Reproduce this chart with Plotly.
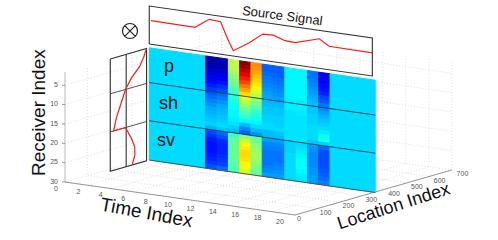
import plotly.graph_objects as go

# ---------- data ----------
time_ticks = [0, 2, 4, 6, 8, 10, 12, 14, 16, 18, 20]
location_ticks = [0, 100, 200, 300, 400, 500, 600, 700]
receiver_ticks = [5, 10, 15, 20, 25, 30]

background = 0.34
col06 = [.03, .04, .05, .07, .09, .11, .13, .15, .18, .21, .23, .25, .27, .29, .30, .31, .32, .33, .30, .20, .17, .15, .14, .14, .14, .15, .16, .18, .21]
col07 = [.04, .05, .06, .08, .10, .12, .14, .17, .20, .23, .25, .27, .29, .30, .31, .32, .33, .34, .32, .23, .20, .17, .16, .16, .16, .17, .18, .19, .23]
col08 = [.56, .56, .55, .53, .51, .49, .47, .45, .43, .41, .40, .39, .38, .37, .37, .36, .35, .33, .31, .44, .46, .47, .47, .47, .47, .47, .46, .45, .45]
col09 = [1.0, .97, .93, .89, .85, .81, .76, .71, .66, .61, .56, .52, .48, .45, .42, .37, .31, .26, .22, .50, .57, .61, .64, .66, .66, .65, .63, .61, .59]
col10 = [.74, .73, .71, .69, .67, .65, .63, .59, .56, .52, .49, .46, .43, .41, .39, .37, .34, .31, .27, .47, .49, .51, .52, .53, .53, .52, .50, .49, .47]
col11 = [.22, .22, .23, .24, .25, .26, .27, .28, .29, .30, .31, .32, .32, .33, .33, .34, .34, .31, .31, .28, .26, .25, .24, .24, .24, .24, .25, .26, .28]
col12 = [.22, .22, .22, .23, .24, .25, .26, .27, .28, .30, .31, .32, .32, .33, .33, .33, .34, .32, .31, .28, .26, .25, .24, .24, .24, .25, .26, .27, .28]
col13 = [.37, .37, .37, .37, .37, .37, .37, .37, .36, .36, .36, .35, .35, .35, .35, .35, .35, .35, .35, .33, .33, .33, .34, .34, .34, .34, .34, .34, .34]
col14 = [.37, .37, .37, .37, .37, .37, .37, .37, .36, .36, .36, .36, .35, .35, .35, .35, .35, .35, .35, .34, .35, .36, .37, .38, .38, .38, .37, .36, .35]
col15 = [.24, .24, .25, .26, .27, .28, .29, .30, .31, .32, .32, .33, .33, .33, .34, .34, .34, .34, .32, .28, .27, .26, .26, .26, .26, .27, .27, .28, .28]
col16 = [.11, .11, .12, .13, .14, .16, .19, .21, .24, .26, .28, .30, .32, .33, .34, .36, .38, .40, .33, .23, .20, .20, .20, .20, .20, .21, .22, .23, .25]
columns = [[background] * 29] * 5 + [col06, col07, col08, col09, col10, col11, col12,
                                     col13, col14, col15, col16] + [[background] * 29] * 4

source_time = [.6, 4.43, 5.67, 6.66, 7.24, 7.76, 9.15, 10.32, 11.24, 12.26, 13.13, 15.24, 16.08, 19.85]
source_value = [.62, .61, .876, .855, .445, .14, .41, .69, .70, .60, .585, .78, .62, .61]

profile_location = [340, 329, 310, 273, 247, 228, 206, 194, 247, 273, 288, 289, 277]
profile_receiver = [1, 2.9, 5.1, 7.5, 10, 13.3, 16.7, 19.8, 19.9, 23, 25.5, 27.6, 30]

plane_location = 353
image_time = (0.45, 20.1)
image_receiver = (1, 30)
panel_location = (179, 341)
panel_centre = 250
source_top = -9.8
section_breaks = [10.0, 19.85]
wall_top = 1.6

# ---------- oblique projection of (time, location, receiver) ----------
def px(t, l):
    return 65 + 11.5 * t + 0.224 * l

def py(t, l, r):
    return 182 + 1.65 * t - 0.0643 * l - 3.87 * (30 - r)

fig = go.Figure()

def line3(points, color, width=1.0, dash="solid"):
    fig.add_trace(go.Scatter(
        x=[px(p[0], p[1]) for p in points],
        y=[py(p[0], p[1], p[2]) for p in points],
        mode="lines", line=dict(color=color, width=width, dash=dash),
        hoverinfo="skip", showlegend=False))

def jet(v):
    def ch(x):
        return max(0.0, min(1.0, x))
    r = ch(min(4 * v - 1.5, -4 * v + 4.5))
    g = ch(min(4 * v - 0.5, -4 * v + 3.5))
    b = ch(min(4 * v + 0.5, -4 * v + 2.5))
    return "rgb(%d,%d,%d)" % (r * 255, g * 255, b * 255)

# grids
GRID = "#d0d0d0"
T_END, L_END = 20, 700
for t in time_ticks:
    line3([(t, 0, 30), (t, L_END, 30), (t, L_END, wall_top)], GRID, 0.7, "1px,2px")
for l in location_ticks:
    line3([(T_END, l, 30), (0, l, 30), (0, l, wall_top)], GRID, 0.7, "1px,2px")
for r in receiver_ticks[:-1]:
    line3([(0, 0, r), (0, L_END, r), (T_END, L_END, r)], GRID, 0.7, "1px,2px")

# axes
line3([(0, 0, wall_top), (0, 0, 30)], "#b8b8b8", 0.9)
line3([(0, 0, 30), (T_END, 0, 30), (T_END, L_END, 30)], "#8c8c8c", 0.9)
for r in receiver_ticks:
    fig.add_trace(go.Scatter(x=[px(0, 0) - 3, px(0, 0)], y=[py(0, 0, r)] * 2, mode="lines",
                             line=dict(color="#808080", width=0.8), hoverinfo="skip", showlegend=False))

# tick labels
TICK = dict(family="Liberation Sans, Arial, sans-serif", size=7, color="#555555")
fig.add_trace(go.Scatter(x=[px(0, 0) - 7] * len(receiver_ticks), y=[py(0, 0, r) for r in receiver_ticks],
                         mode="text", text=[str(r) for r in receiver_ticks], textposition="middle left",
                         textfont=TICK, hoverinfo="skip", showlegend=False))
fig.add_trace(go.Scatter(x=[px(t, 0) - 9 - 0.3 * t for t in time_ticks], y=[py(t, 0, 30) + 7 for t in time_ticks],
                         mode="text", text=[str(t) for t in time_ticks], textposition="middle center",
                         textfont=TICK, hoverinfo="skip", showlegend=False))
fig.add_trace(go.Scatter(x=[px(T_END, l) + 2 + 0.004 * l for l in location_ticks],
                         y=[py(T_END, l, 30) + 4.5 for l in location_ticks],
                         mode="text", text=[str(l) for l in location_ticks], textposition="middle right",
                         textfont=TICK, hoverinfo="skip", showlegend=False))

# slice image
n_col, n_row = len(columns), len(columns[0])
dt = (image_time[1] - image_time[0]) / n_col
dr = (image_receiver[1] - image_receiver[0]) / n_row
for c, values in enumerate(columns):
    t0, t1 = image_time[0] + c * dt, image_time[0] + (c + 1) * dt
    for i, v in enumerate(values):
        r0, r1 = image_receiver[0] + i * dr, image_receiver[0] + (i + 1) * dr
        corners = [(t0, r0), (t1, r0), (t1, r1), (t0, r1), (t0, r0)]
        col = jet(v)
        fig.add_trace(go.Scatter(
            x=[px(a, plane_location) for a, b in corners],
            y=[py(a, plane_location, b) for a, b in corners],
            mode="lines", fill="toself", fillcolor=col, line=dict(color=col, width=1),
            hoverinfo="skip", showlegend=False))

for r in section_breaks:
    line3([(image_time[0], plane_location, r), (image_time[1], plane_location, r)], "#1c3c44", 0.9)
line3([(image_time[0], plane_location, 30), (image_time[1], plane_location, 30)], "#555555", 1.0)

# source panel
T0, T1 = 0.45, 19.85
line3([(T0, plane_location, 0), (T0, plane_location, source_top), (T1, plane_location, source_top),
       (T1, plane_location, 0), (T0, plane_location, 0)], "#303030", 1.1)
line3([(t, plane_location, source_top * v) for t, v in zip(source_time, source_value)], "#ff1a1a", 1.2)

# side panel
L0, L1 = panel_location
line3([(T0, L0, 1), (T0, L1, 1), (T0, L1, 30), (T0, L0, 30), (T0, L0, 1)], "#303030", 1.1)
line3([(T0, panel_centre, 1), (T0, panel_centre, 30)], "#303030", 1.1)
for r in section_breaks:
    line3([(T0, L0, r), (T0, L1, r)], "#404040", 0.9)
line3([(T0, l, r) for l, r in zip(profile_location, profile_receiver)], "#ff1a1a", 1.2)

# cross-in-circle symbol
fig.add_trace(go.Scatter(x=[130], y=[31], mode="markers",
                         marker=dict(symbol="circle-x-open", size=15, color="#222222",
                                     line=dict(color="#222222", width=1.2)),
                         hoverinfo="skip", showlegend=False))

FONT = "Liberation Sans, Arial, sans-serif"
def label(text, x, y, size, angle=0):
    fig.add_annotation(text=text, x=x, y=y, xref="x", yref="y", showarrow=False, textangle=angle,
                       font=dict(family=FONT, size=size, color="#111111"),
                       xanchor="center", yanchor="middle")

label("Receiver Index", 38, 113, 19, -90)
label("Time Index", 147, 212, 19, 10.5)
label("Location Index", 393, 206, 18, -17.8)
label("Source Signal", 282, 15, 13, 7.5)
label("p", 169, 66, 18)
label("sh", 168, 103, 18)
label("sv", 166, 140, 18)

fig.update_layout(
    width=498, height=240, margin=dict(l=0, r=0, t=0, b=0),
    paper_bgcolor="white", plot_bgcolor="white", showlegend=False, hovermode=False,
    xaxis=dict(range=[0, 498], visible=False, fixedrange=True),
    yaxis=dict(range=[240, 0], visible=False, fixedrange=True),
)
fig.write_html("out.html", config=dict(displayModeBar=False),
               post_script="document.body.style.margin='0';document.documentElement.style.overflow='hidden';")
